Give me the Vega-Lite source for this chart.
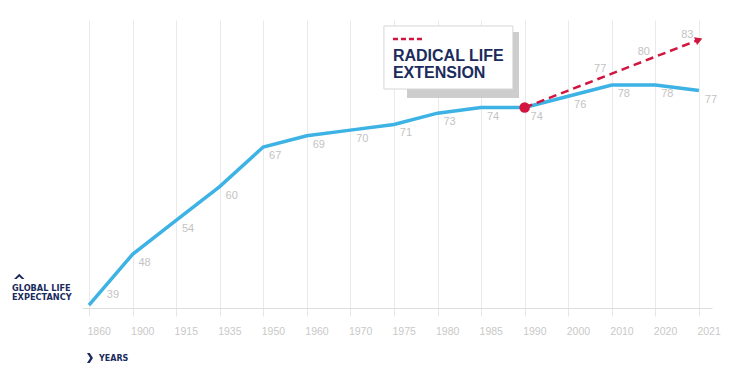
{
  "$schema": "https://vega.github.io/schema/vega-lite/v6.json",
  "width": 630,
  "height": 288,
  "autosize": "none",
  "padding": {"left": 82, "top": 20, "right": 38, "bottom": 70},
  "background": "white",
  "data": {"values": [{}]},
  "config": {
    "view": {"stroke": null},
    "axisY": {"disable": true},
    "font": "Liberation Sans"
  },
  "datasets": {
    "life": [
      {"year": "1860", "order": 0, "life": 39},
      {"year": "1900", "order": 1, "life": 48},
      {"year": "1915", "order": 2, "life": 54},
      {"year": "1935", "order": 3, "life": 60},
      {"year": "1950", "order": 4, "life": 67},
      {"year": "1960", "order": 5, "life": 69},
      {"year": "1970", "order": 6, "life": 70},
      {"year": "1975", "order": 7, "life": 71},
      {"year": "1980", "order": 8, "life": 73},
      {"year": "1985", "order": 9, "life": 74},
      {"year": "1990", "order": 10, "life": 74},
      {"year": "2000", "order": 11, "life": 76},
      {"year": "2010", "order": 12, "life": 78},
      {"year": "2020", "order": 13, "life": 78},
      {"year": "2021", "order": 14, "life": 77}
    ],
    "projection": [
      {"year": "1990", "order": 10, "life": 74, "shown": false},
      {"year": "2000", "order": 11, "life": 77, "shown": true},
      {"year": "2010", "order": 12, "life": 80, "shown": true},
      {"year": "2020", "order": 13, "life": 83, "shown": true},
      {"year": "2021", "order": 14, "life": 86, "shown": false}
    ]
  },
  "layer": [
    {
      "data": {"name": "life"},
      "mark": {"type": "line", "color": "#3db2e4", "strokeWidth": 3.5, "strokeJoin": "miter"},
      "encoding": {
        "x": {
          "field": "order", "type": "quantitative",
          "scale": {"domain": [-0.16, 14.3], "nice": false, "zero": false},
          "axis": {
            "title": null,
            "values": [0,1,2,3,4,5,6,7,8,9,10,11,12,13,14],
            "labelExpr": "['1860','1900','1915','1935','1950','1960','1970','1975','1980','1985','1990','2000','2010','2020','2021'][datum.value]",
            "grid": true, "gridColor": "#e9e9e9", "gridWidth": 1,
            "tickSize": 8, "tickColor": "#e6e6e6",
            "domainColor": "#dedede",
            "labelAlign": "left", "labelOffset": -2, "labelPadding": 10,
            "labelColor": "#c9c9c9", "labelFontSize": 10.5,
            "labelFlush": false, "labelOverlap": false
          }
        },
        "y": {"field": "life", "type": "quantitative", "title": null, "scale": {"domain": [38.5, 89.5], "nice": false, "zero": false}}
      }
    },
    {
      "mark": {"type": "rect", "fill": "#cdcdcd"},
      "encoding": {
        "x": {"datum": 7.3, "type": "quantitative"},
        "x2": {"datum": 9.87},
        "y": {"datum": 87.37, "type": "quantitative"},
        "y2": {"datum": 75.69}
      }
    },
    {
      "mark": {"type": "rect", "fill": "white", "stroke": "#d6d6d6", "strokeWidth": 1},
      "encoding": {
        "x": {"datum": 6.77, "type": "quantitative"},
        "x2": {"datum": 9.73},
        "y": {"datum": 88.44, "type": "quantitative"},
        "y2": {"datum": 77.28}
      }
    },
    {
      "mark": {"type": "rule", "color": "#d2143f", "strokeWidth": 2.5, "strokeDash": [5, 3]},
      "encoding": {
        "x": {"datum": 6.977, "type": "quantitative"},
        "x2": {"datum": 7.666},
        "y": {"datum": 86.14, "type": "quantitative"}
      }
    },
    {
      "mark": {"type": "text", "text": ["RADICAL LIFE", "EXTENSION"], "lineHeight": 17, "align": "left", "baseline": "alphabetic", "font": "Liberation Sans", "fontWeight": "bold", "fontSize": 16, "fill": "#1a2b5c"},
      "encoding": {
        "x": {"datum": 6.977, "type": "quantitative"},
        "y": {"datum": 82.24, "type": "quantitative"}
      }
    },
    {
      "data": {"name": "projection"},
      "mark": {"type": "line", "color": "#d2143f", "strokeWidth": 2.5, "strokeDash": [8, 5]},
      "encoding": {
        "x": {"field": "order", "type": "quantitative", "title": null},
        "y": {"field": "life", "type": "quantitative", "title": null}
      }
    },
    {
      "data": {"name": "projection"},
      "transform": [{"filter": "datum.order == 14"}],
      "mark": {"type": "point", "shape": "triangle-right", "filled": true, "opacity": 1, "color": "#d2143f", "size": 70, "angle": -21},
      "encoding": {
        "x": {"field": "order", "type": "quantitative", "title": null},
        "y": {"field": "life", "type": "quantitative", "title": null}
      }
    },
    {
      "data": {"name": "projection"},
      "transform": [{"filter": "datum.order == 10"}],
      "mark": {"type": "point", "filled": true, "opacity": 1, "color": "#d2143f", "size": 110},
      "encoding": {
        "x": {"field": "order", "type": "quantitative", "title": null},
        "y": {"field": "life", "type": "quantitative", "title": null}
      }
    },
    {
      "data": {"name": "life"},
      "transform": [{"filter": "datum.order > 0"}],
      "mark": {"type": "text", "dx": 12, "dy": 9, "fontSize": 11, "fill": "#c3c3c3", "align": "center", "baseline": "middle"},
      "encoding": {
        "x": {"field": "order", "type": "quantitative", "title": null},
        "y": {"field": "life", "type": "quantitative", "title": null},
        "text": {"field": "life"}
      }
    },
    {
      "data": {"name": "life"},
      "transform": [{"filter": "datum.order == 0"}],
      "mark": {"type": "text", "dx": 24, "dy": -10, "fontSize": 11, "fill": "#c3c3c3", "align": "center", "baseline": "middle"},
      "encoding": {
        "x": {"field": "order", "type": "quantitative", "title": null},
        "y": {"field": "life", "type": "quantitative", "title": null},
        "text": {"field": "life"}
      }
    },
    {
      "data": {"name": "projection"},
      "transform": [{"filter": "datum.shown"}],
      "mark": {"type": "text", "dx": 32, "dy": -22, "fontSize": 11, "fill": "#c3c3c3", "align": "center", "baseline": "middle"},
      "encoding": {
        "x": {"field": "order", "type": "quantitative", "title": null},
        "y": {"field": "life", "type": "quantitative", "title": null},
        "text": {"field": "life"}
      }
    },
    {
      "mark": {"type": "point", "shape": "M-1,0.5L0,-0.5L1,0.5L0.5,0.5L0,0.02L-0.5,0.5Z", "filled": true, "opacity": 1, "color": "#1a2b5c", "size": 110},
      "encoding": {
        "x": {"datum": -1.6, "type": "quantitative"},
        "y": {"datum": 44.1, "type": "quantitative"}
      }
    },
    {
      "mark": {"type": "text", "text": ["GLOBAL LIFE", "EXPECTANCY"], "lineHeight": 8.5, "align": "left", "baseline": "alphabetic", "font": "DejaVu Sans", "fontWeight": "bold", "fontSize": 8.2, "fill": "#1a2b5c"},
      "encoding": {
        "x": {"datum": -1.767, "type": "quantitative"},
        "y": {"datum": 41.5, "type": "quantitative"}
      }
    },
    {
      "mark": {"type": "point", "shape": "M-0.6,-1L-0.05,-1L0.6,0L-0.05,1L-0.6,1L0.05,0Z", "filled": true, "opacity": 1, "color": "#1a2b5c", "size": 100},
      "encoding": {
        "x": {"datum": 0.023, "type": "quantitative"},
        "y": {"datum": 29.65, "type": "quantitative"}
      }
    },
    {
      "mark": {"type": "text", "text": "YEARS", "align": "left", "baseline": "alphabetic", "font": "DejaVu Sans", "fontWeight": "bold", "fontSize": 8, "fill": "#1a2b5c"},
      "encoding": {
        "x": {"datum": 0.2295, "type": "quantitative"},
        "y": {"datum": 29.11, "type": "quantitative"}
      }
    }
  ]
}
